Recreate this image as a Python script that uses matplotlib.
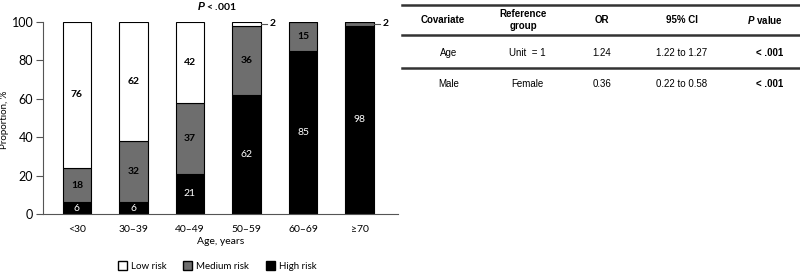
import numpy as np
import matplotlib.pyplot as plt
from matplotlib.lines import Line2D
from matplotlib.patches import Patch

# Chart data
age_groups = ["<30", "30\u201339", "40\u201349", "50\u201359", "60\u201369", "\u226570"]
high_risk = [6, 6, 21, 62, 85, 98]
medium_risk = [18, 32, 37, 36, 15, 2]
low_risk = [76, 62, 42, 2, 0, 0]

# Table data
table_header = ["Covariate", "Reference\ngroup", "OR", "95% CI", "$P$ value"]
table_rows = [
    ["Age", "Unit  = 1", "1.24", "1.22 to 1.27", "< .001"],
    ["Male", "Female", "0.36", "0.22 to 0.58", "< .001"],
]

plt.rcParams['font.family'] = ['Lato', 'DejaVu Sans']
plt.rcParams['mathtext.fontset'] = 'custom'
plt.rcParams['mathtext.it'] = 'Liberation Sans:italic:bold'
plt.rcParams['mathtext.rm'] = 'Liberation Sans:bold'

W, H = 800, 272
fig = plt.figure(figsize=(W / 100, H / 100), dpi=100)


def fx(px):
    return px / W


def fy(py):
    return 1 - py / H


ax = fig.add_axes([fx(43), fy(214), fx(398) - fx(43), fy(22) - fy(214)])

x = np.arange(len(age_groups))
bw = 0.5
high = np.array(high_risk)
med = np.array(medium_risk)
low = np.array(low_risk)

ax.bar(x, high, bw, color="black", edgecolor="black", linewidth=0.8)
ax.bar(x, med, bw, bottom=high, color="#6e6e6e", edgecolor="black", linewidth=0.8)
ax.bar(x, low, bw, bottom=high + med, color="white", edgecolor="black", linewidth=0.8)

for i in range(len(x)):
    # high risk labels, white
    ax.text(x[i], high[i] / 2, str(high[i]), ha="center", va="center",
            color="white", fontsize=7.5)
    # medium
    if med[i] >= 5:
        ax.text(x[i], high[i] + med[i] / 2, str(med[i]), ha="center", va="center",
                color="black", fontsize=7.5, fontweight="bold")
    # low
    if low[i] >= 5:
        ax.text(x[i], high[i] + med[i] + low[i] / 2, str(low[i]), ha="center",
                va="center", color="black", fontsize=7.5, fontweight="bold")

# callouts for small segments
for i, val in [(3, low[3]), (5, med[5])]:
    ytop = 100 - val / 2
    ax.plot([x[i] + bw / 2, x[i] + bw / 2 + 0.12], [ytop, ytop], color="#555555", lw=0.8,
            clip_on=False)
    ax.text(x[i] + bw / 2 + 0.16, ytop, str(val), ha="left", va="center",
            fontsize=7.5, fontweight="bold")

ax.set_xlim(-0.60, 5.68)
ax.set_ylim(0, 100)
ax.set_yticks([0, 20, 40, 60, 80, 100])
ax.tick_params(axis="y", labelsize=9, length=5, pad=2, color="#555555")
ax.tick_params(axis="x", labelsize=7.5, length=0, pad=8)
ax.set_xticks(x)
ax.set_xticklabels(age_groups)
for s in ["top", "right"]:
    ax.spines[s].set_visible(False)
for s in ["left", "bottom"]:
    ax.spines[s].set_color("#555555")

ax.set_xlabel("Age, years", fontsize=7.5, labelpad=2)
fig.text(fx(5), fy(120), "Proportion, %", rotation=90, ha="center", va="center",
         fontsize=7)
ax.set_title("$P$ < .001", fontsize=7.5, fontweight="bold", pad=9, x=0.49)

legend_handles = [
    Patch(facecolor="white", edgecolor="black", label="Low risk"),
    Patch(facecolor="#6e6e6e", edgecolor="black", label="Medium risk"),
    Patch(facecolor="black", edgecolor="black", label="High risk"),
]
fig.legend(handles=legend_handles, loc="center", bbox_to_anchor=(fx(217), fy(266)),
           ncol=3, frameon=False, fontsize=7, handlelength=0.95, handleheight=0.95,
           columnspacing=1.7, handletextpad=0.4)

# Table on the right
head_x = [443, 523, 602, 682, 765]
row_x = [449, 527, 602, 682, 770]
tfont = ['Liberation Sans', 'DejaVu Sans']
for cx, txt in zip(head_x, table_header):
    fig.text(fx(cx), fy(20), txt, ha="center", va="center", fontsize=7,
             fontweight="bold", family=tfont, linespacing=1.3)
row_y = [53, 84]
for ry, row in zip(row_y, table_rows):
    for j, (cx, txt) in enumerate(zip(row_x, row)):
        fig.text(fx(cx), fy(ry), txt, ha="center", va="center", fontsize=7,
                 fontweight="bold" if j == 4 else "normal", family=tfont)

for ly in [5, 35, 68]:
    fig.add_artist(Line2D([fx(402), fx(800)], [fy(ly), fy(ly)], color="#333333",
                          lw=1.8, transform=fig.transFigure))

fig.savefig("out.png", dpi=100)
